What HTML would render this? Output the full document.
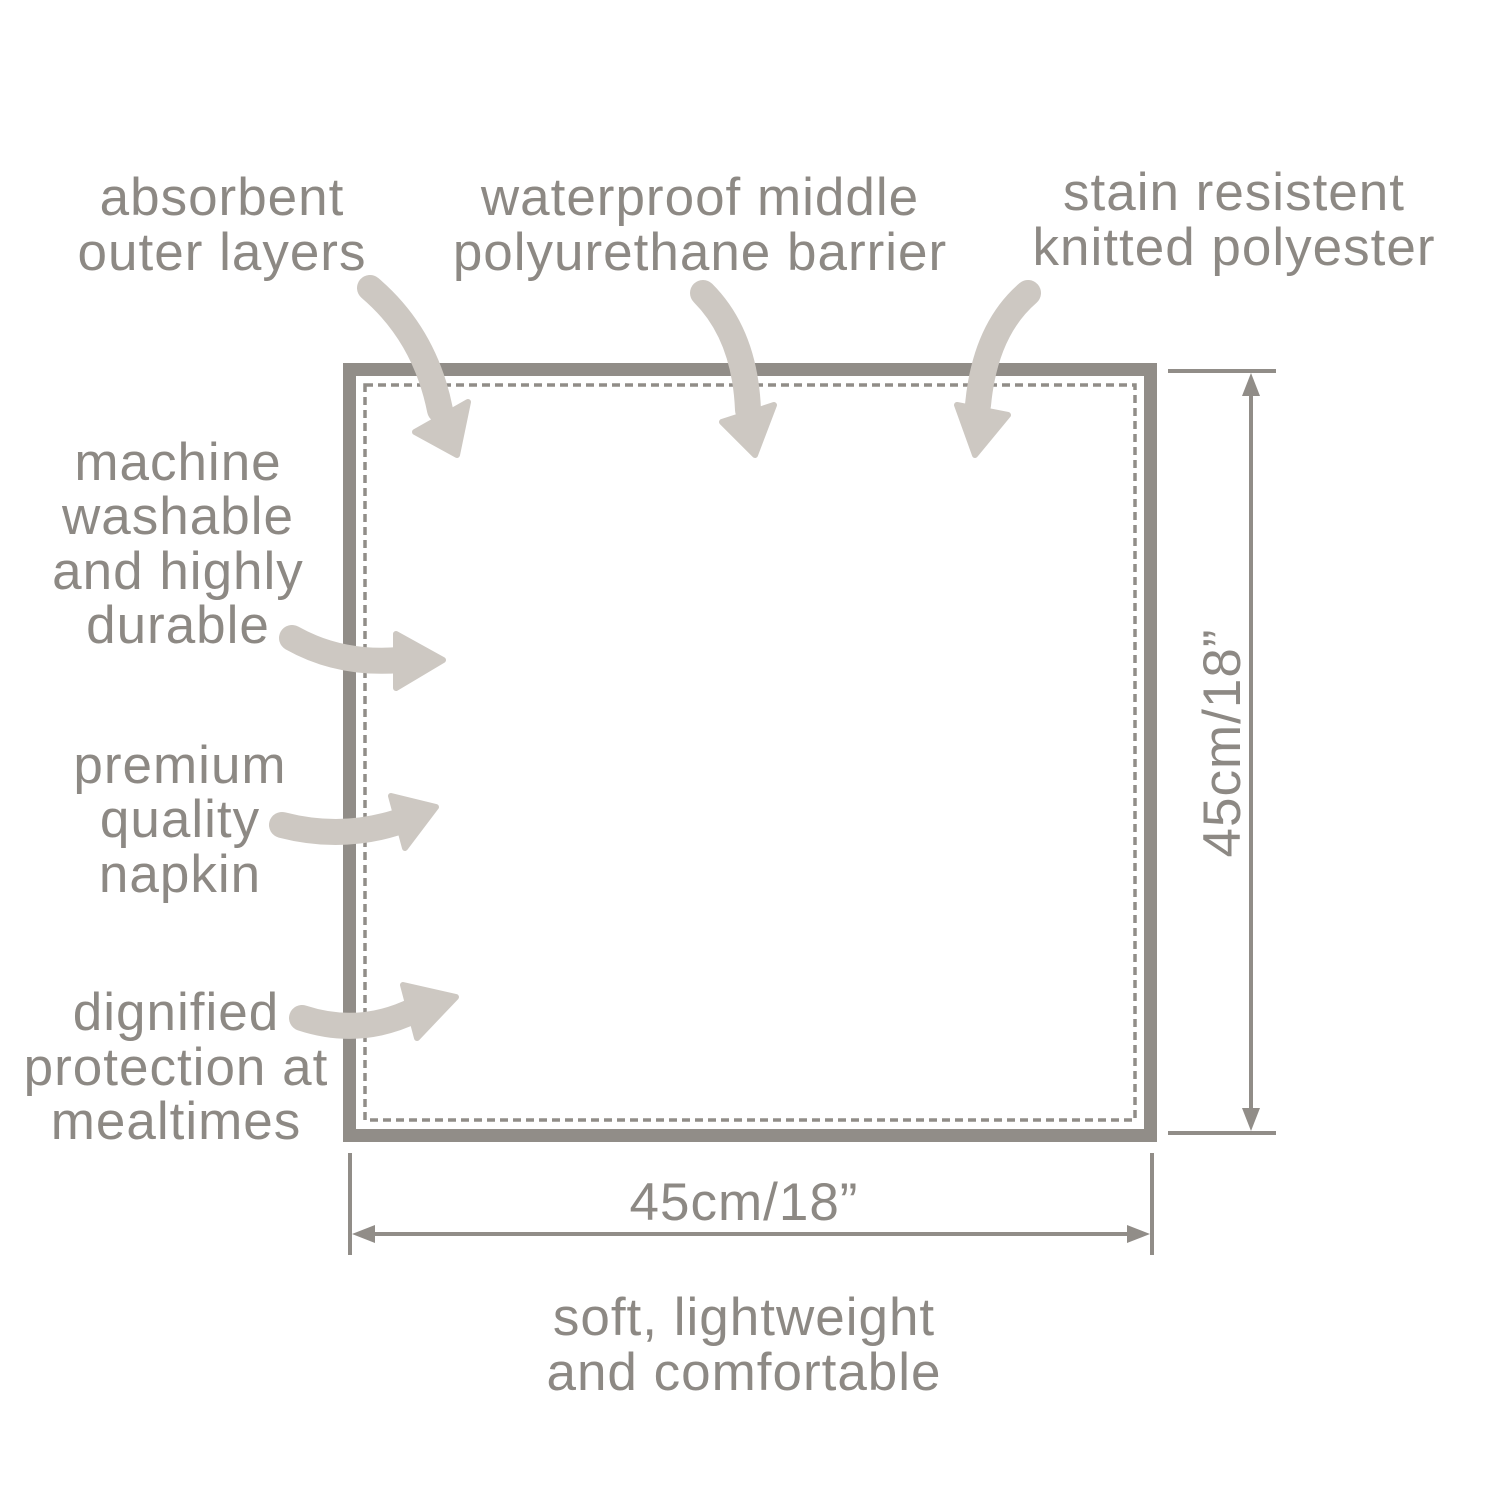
<!DOCTYPE html>
<html><head><style>html,body{margin:0;padding:0;background:#fff}svg{display:block}</style></head>
<body>
<svg width="1500" height="1500" viewBox="0 0 1500 1500" xmlns="http://www.w3.org/2000/svg">
<rect width="1500" height="1500" fill="#fff"/>
<g font-family="Liberation Sans, Arial, sans-serif" font-size="53" letter-spacing="1" fill="#8d8984" text-anchor="middle">
<text x="222" y="215">absorbent</text>
<text x="222" y="270">outer layers</text>
<text x="700" y="215">waterproof middle</text>
<text x="700" y="270">polyurethane barrier</text>
<text x="1234" y="210">stain resistent</text>
<text x="1234" y="265">knitted polyester</text>
<text x="178" y="480">machine</text>
<text x="178" y="534">washable</text>
<text x="178" y="589">and highly</text>
<text x="178" y="643">durable</text>
<text x="180" y="783">premium</text>
<text x="180" y="837">quality</text>
<text x="180" y="892">napkin</text>
<text x="176" y="1030">dignified</text>
<text x="176" y="1085">protection at</text>
<text x="176" y="1139">mealtimes</text>
<text x="744" y="1220">45cm/18”</text>
<text x="744" y="1335">soft, lightweight</text>
<text x="744" y="1390">and comfortable</text>
<text x="0" y="0" transform="translate(1240,743) rotate(-90)">45cm/18”</text>
</g>
<rect x="349.5" y="369.5" width="801" height="766" fill="none" stroke="#918d88" stroke-width="13"/>
<rect x="365" y="385" width="770" height="735" fill="none" stroke="#918d88" stroke-width="3.5" stroke-dasharray="8,5"/>
<g stroke="#918d88" stroke-width="4" fill="#918d88">
<line x1="1168" y1="371" x2="1276" y2="371"/>
<line x1="1168" y1="1133" x2="1276" y2="1133"/>
<line x1="1251" y1="385" x2="1251" y2="1120"/>
<line x1="350" y1="1153" x2="350" y2="1255"/>
<line x1="1152" y1="1153" x2="1152" y2="1255"/>
<line x1="365" y1="1234" x2="1138" y2="1234"/>
</g>
<g fill="#918d88">
<polygon points="1251,373 1242,396 1260,396"/>
<polygon points="1251,1131 1242,1108 1260,1108"/>
<polygon points="352,1234 375,1225 375,1243"/>
<polygon points="1150,1234 1127,1225 1127,1243"/>
</g>
<g fill="none" stroke="#cdc8c2" stroke-width="26" stroke-linecap="round">
<path d="M370,288 Q425,335 440,410"/>
<path d="M703,293 Q745,335 748,410"/>
<path d="M1028,293 Q985,330 978,405"/>
<path d="M292,638 Q340,665 400,660"/>
<path d="M282,825 Q340,840 395,823"/>
<path d="M302,1018 Q360,1037 415,1010"/>
</g>
<g fill="#cdc8c2" stroke="#cdc8c2" stroke-width="6" stroke-linejoin="round">
<polygon points="457,455 415,432 468,402"/>
<polygon points="755,455 722,422 774,405"/>
<polygon points="975,455 957,405 1008,415"/>
<polygon points="443,660 396,634 396,688"/>
<polygon points="436,807 391,796 405,848"/>
<polygon points="456,997 403,985 417,1038"/>
</g>
</svg>
</body></html>
